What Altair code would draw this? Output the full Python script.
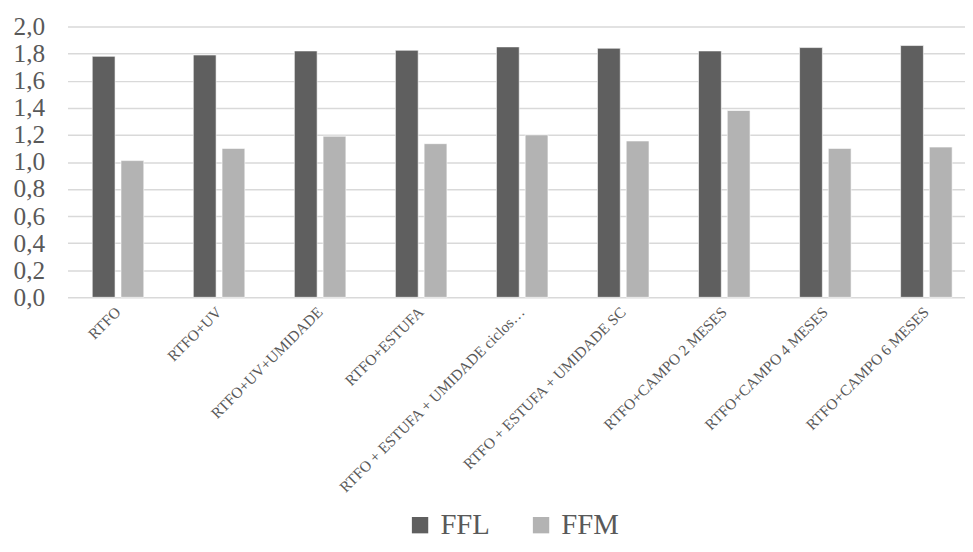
import altair as alt
import pandas as pd

categories = [
    "RTFO", "RTFO+UV", "RTFO+UV+UMIDADE", "RTFO+ESTUFA",
    "RTFO + ESTUFA + UMIDADE ciclos…", "RTFO + ESTUFA + UMIDADE SC",
    "RTFO+CAMPO 2 MESES", "RTFO+CAMPO 4 MESES", "RTFO+CAMPO 6 MESES",
]
ffl = [1.78, 1.79, 1.82, 1.825, 1.85, 1.84, 1.82, 1.845, 1.86]
ffm = [1.01, 1.10, 1.19, 1.135, 1.20, 1.155, 1.38, 1.10, 1.11]
series = ["FFL", "FFM"]
y_ticks = [0.0, 0.2, 0.4, 0.6, 0.8, 1.0, 1.2, 1.4, 1.6, 1.8, 2.0]

rows = []
for c, a, b in zip(categories, ffl, ffm):
    rows.append({"cat": c, "serie": "FFL", "val": a})
    rows.append({"cat": c, "serie": "FFM", "val": b})
df = pd.DataFrame(rows)

FONT = "Liberation Serif"
TXT = "#595959"

chart = alt.Chart(df).mark_bar(stroke="#ffffff", strokeWidth=0.6).encode(
    x=alt.X("cat:N", sort=categories, title=None,
            scale=alt.Scale(range=[0, 917], paddingInner=0.49, paddingOuter=0.245),
            axis=alt.Axis(labelAngle=-45, labelAlign="right", labelBaseline="middle",
                          labelPadding=12, ticks=False, domain=False, labelFontSize=15.5,
                          labelFont=FONT, labelColor=TXT, labelLimit=400)),
    xOffset=alt.XOffset("serie:N", sort=series,
                        scale=alt.Scale(paddingInner=0.207, paddingOuter=0)),
    y=alt.Y("val:Q", title=None,
            scale=alt.Scale(domain=[0, 2.0], nice=False),
            axis=alt.Axis(values=y_ticks, format=".1f", labelExpr="replace(datum.label, '.', ',')",
                          ticks=False, domain=False, labelFontSize=25.5, labelFont=FONT,
                          labelColor=TXT, labelPadding=23, gridColor="#d9d9d9", gridWidth=1.5)),
    color=alt.Color("serie:N", sort=series,
                    scale=alt.Scale(domain=series, range=["#5f5f5f", "#b3b3b3"]),
                    legend=alt.Legend(title=None, orient="none", direction="horizontal",
                                      legendX=341, legendY=488, symbolType="square",
                                      symbolSize=272, symbolStrokeWidth=0,
                                      labelFontSize=29, labelFont=FONT, labelColor=TXT,
                                      columnPadding=37, labelOffset=6)),
).properties(
    width=905, height=273,
    autosize=alt.AutoSizeParams(type="none"),
    padding={"left": 60, "top": 16.5, "right": 0, "bottom": 246.5},
).configure_view(stroke=None)

chart.save("out.html", embed_options={"renderer": "svg", "actions": False})
